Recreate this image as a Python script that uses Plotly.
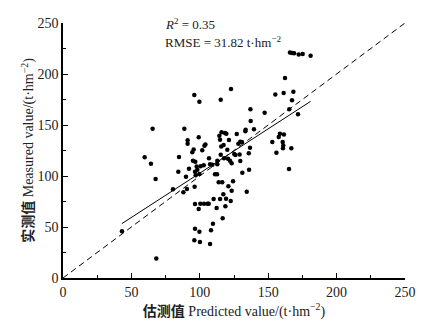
import plotly.graph_objects as go

predicted = [43.1, 68.2, 59.7, 64.3, 65.5, 67.7, 80.4, 84.8, 84.3, 88.0, 88.7, 89.9, 90.6, 91.1, 91.1,
             92.1, 94.5, 95.0, 95.5, 96.0, 96.0, 96.5, 96.5, 96.2, 96.5, 96.7, 97.0, 97.7, 98.2, 99.2,
             99.7, 99.2, 99.7, 100.1, 100.4, 99.7, 100.6, 101.8, 102.9, 103.4, 104.1, 103.1, 105.7, 106.7, 106.5,
             107.5, 108.2, 107.5, 109.2, 109.6, 110.1, 111.1, 112.6, 112.3, 112.8, 112.8, 113.8, 114.3, 114.8, 115.3,
             114.8, 115.3, 115.7, 115.9, 116.4, 116.7, 117.2, 117.4, 117.7, 118.4, 118.7, 119.4, 119.2, 120.1, 120.6,
             120.9, 121.3, 122.1, 122.6, 122.8, 123.3, 123.3, 124.3, 125.2, 126.0, 127.0, 128.2, 129.1, 129.6, 129.6,
             130.8, 131.1, 133.5, 133.3, 134.3, 135.8, 136.0, 136.7, 137.0, 137.2, 139.6, 147.4, 153.0, 155.2, 156.0,
             157.7, 158.6, 161.3, 161.5, 160.6, 161.0, 160.8, 162.3, 165.4, 165.2, 165.9, 167.4, 168.9, 167.4, 166.9,
             168.4, 171.8, 172.3, 175.2, 181.0]
measured = [45.8, 19.0, 118.3, 112.0, 146.4, 97.0, 87.0, 118.6, 104.2, 84.0, 146.4, 99.3, 87.3, 135.0, 131.7,
            107.2, 123.2, 115.0, 126.1, 179.4, 36.9, 72.5, 48.4, 89.5, 104.2, 114.0, 100.7, 109.2, 106.2, 138.0,
            172.9, 67.6, 45.4, 35.3, 72.9, 102.0, 109.5, 125.2, 110.5, 129.7, 131.0, 72.9, 72.9, 117.3, 72.9,
            33.3, 46.7, 111.4, 111.1, 53.3, 77.5, 101.6, 101.6, 68.6, 115.0, 111.4, 93.8, 139.5, 135.6, 174.8,
            77.5, 120.9, 129.0, 142.8, 93.8, 58.5, 82.0, 130.4, 117.3, 142.2, 70.3, 141.5, 77.8, 125.8, 117.0,
            89.9, 135.3, 115.0, 75.5, 185.3, 112.4, 85.6, 94.8, 121.6, 120.6, 141.2, 131.7, 121.2, 114.7, 133.7,
            133.3, 103.3, 145.4, 143.8, 84.6, 122.2, 106.2, 127.8, 165.4, 153.9, 145.8, 162.1, 133.3, 180.0, 122.9,
            138.2, 141.5, 181.4, 140.8, 133.3, 130.0, 127.1, 196.1, 165.4, 106.9, 221.2, 220.6, 220.3, 174.2, 127.1,
            182.7, 160.5, 219.0, 219.6, 218.0]

fit_x = [43.0, 181.0]
fit_slope = 0.869
fit_intercept = 15.9
one_to_one = [0, 250]
tick_vals = [0, 50, 100, 150, 200, 250]

fit_y = [fit_slope * v + fit_intercept for v in fit_x]

serif = "Liberation Serif, Times New Roman, serif"

fig = go.Figure()
fig.add_trace(go.Scatter(x=one_to_one, y=one_to_one, mode="lines",
                         line=dict(color="black", width=1, dash="6px,4px"), showlegend=False))
fig.add_trace(go.Scatter(x=fit_x, y=fit_y, mode="lines",
                         line=dict(color="black", width=1), showlegend=False))
fig.add_trace(go.Scatter(x=predicted, y=measured, mode="markers",
                         marker=dict(color="black", size=4.5), showlegend=False))

axis_common = dict(range=[0, 250], tickvals=tick_vals, showgrid=False, zeroline=False,
                   showline=True, linecolor="black", linewidth=1.5, ticks="inside",
                   ticklen=5, tickwidth=1, tickcolor="black", automargin=False,
                   minor=dict(ticks="inside", ticklen=3, dtick=25, tickcolor="black", tickwidth=1),
                   tickfont=dict(family=serif, size=14, color="#222"), mirror=False)

fig.update_layout(
    width=434, height=318,
    margin=dict(l=55, r=37, t=15, b=48),
    plot_bgcolor="white", paper_bgcolor="white",
    xaxis=dict(**axis_common,
               title=dict(text="<b><span style='font-family:Noto Sans CJK SC'>估测值</span></b> Predicted value/(t·hm<sup>−2</sup>)",
                          font=dict(family=serif, size=14, color="#222"), standoff=0)),
    yaxis=dict(**axis_common,
               title=dict(text="<b><span style='font-family:Noto Sans CJK SC'>实测值</span></b> Measured value/(t·hm<sup>−2</sup>)",
                          font=dict(family=serif, size=14, color="#222"), standoff=0)),
    annotations=[
        dict(x=73, y=249, xref="x", yref="y", xanchor="left", yanchor="middle", showarrow=False,
             text="<i>R</i><sup>2</sup> = 0.35", font=dict(family=serif, size=13, color="#222")),
        dict(x=73, y=231, xref="x", yref="y", xanchor="left", yanchor="middle", showarrow=False,
             text="RMSE = 31.82 t·hm<sup>−2</sup>", font=dict(family=serif, size=13, color="#222")),
    ],
)

fig.write_html("out.html")
